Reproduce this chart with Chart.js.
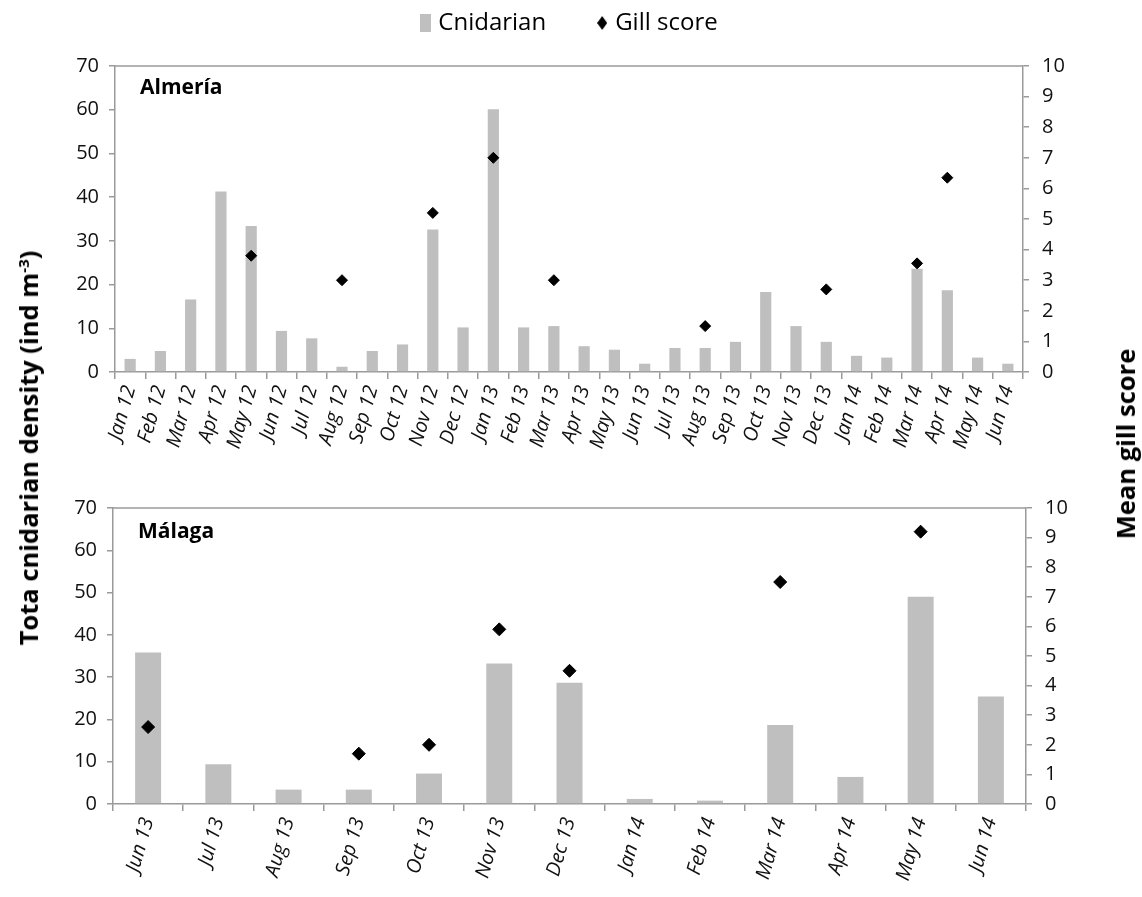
<!DOCTYPE html>
<html>
<head>
<meta charset="utf-8">
<title>Cnidarian density and gill score</title>
<script src="https://cdn.jsdelivr.net/npm/chart.js@4.4.1/dist/chart.umd.min.js"></script>
<style>
  html, body { margin: 0; padding: 0; background: #fff; }
  body { width: 1142px; height: 897px; position: relative; overflow: hidden; font-family: 'Open Sans', sans-serif; }
  .wrap { position: absolute; left: 0; width: 1142px; }
  #topWrap { top: -44px; height: 499px; }
  #botWrap { top: 460px; height: 437px; }
  .ytitle { position: absolute; font-weight: bold; font-size: 25.5px; white-space: nowrap; color: #000;
            transform: translate(-50%, -50%) rotate(-90deg); }
  .ytitle sup { font-size: 15px; }
</style>
</head>
<body>
<div id="topWrap" class="wrap"><canvas id="almeria"></canvas></div>
<div id="botWrap" class="wrap"><canvas id="malaga"></canvas></div>
<div class="ytitle" style="left:28px; top:448px;">Tota cnidarian density (ind m<sup>-3</sup>)</div>
<div class="ytitle" style="left:1125px; top:444px;">Mean gill score</div>

<script>
// Almería monthly series
const almeriaMonths = ['Jan 12','Feb 12','Mar 12','Apr 12','May 12','Jun 12','Jul 12','Aug 12','Sep 12','Oct 12','Nov 12','Dec 12',
                       'Jan 13','Feb 13','Mar 13','Apr 13','May 13','Jun 13','Jul 13','Aug 13','Sep 13','Oct 13','Nov 13','Dec 13',
                       'Jan 14','Feb 14','Mar 14','Apr 14','May 14','Jun 14'];
const almeriaCnidarian = [3.0, 4.8, 16.6, 41.3, 33.4, 9.4, 7.7, 1.2, 4.8, 6.3, 32.6, 10.2,
                          60.1, 10.2, 10.5, 5.9, 5.1, 1.9, 5.5, 5.5, 6.9, 18.3, 10.5, 6.9,
                          3.7, 3.3, 23.6, 18.7, 3.3, 1.9];
const almeriaGill = [null, null, null, null, 3.8, null, null, 3.0, null, null, 5.2, null,
                     7.0, null, 3.0, null, null, null, null, 1.5, null, null, null, 2.7,
                     null, null, 3.55, 6.35, null, null];

// Málaga monthly series
const malagaMonths = ['Jun 13','Jul 13','Aug 13','Sep 13','Oct 13','Nov 13','Dec 13','Jan 14','Feb 14','Mar 14','Apr 14','May 14','Jun 14'];
const malagaCnidarian = [35.8, 9.4, 3.4, 3.4, 7.2, 33.2, 28.7, 1.2, 0.8, 18.7, 6.4, 49.0, 25.4];
const malagaGill = [2.6, null, null, 1.7, 2.0, 5.9, 4.5, null, null, 7.5, null, 9.2, null];

// Axis tick values
const densityTicks = [0, 10, 20, 30, 40, 50, 60, 70];
const gillTicks = [0, 1, 2, 3, 4, 5, 6, 7, 8, 9, 10];

const BAR_COLOR = '#bfbfbf';
const AXIS_COLOR = '#9a9a9a';
const TICK_TEXT = '#111111';
const FONT = "'Open Sans', sans-serif";

function swatch(w, h, paint) {
  const c = document.createElement('canvas');
  c.width = w; c.height = h;
  paint(c.getContext('2d'), w, h);
  return c;
}
const barSwatch = swatch(11, 18, (g, w, h) => { g.fillStyle = BAR_COLOR; g.fillRect(0, 0, w, h); });
const diamondSwatch = swatch(10, 14, (g, w, h) => {
  g.fillStyle = '#000';
  g.beginPath(); g.moveTo(w / 2, 0); g.lineTo(w, h / 2); g.lineTo(w / 2, h); g.lineTo(0, h / 2); g.closePath(); g.fill();
});

// Top border of the plot area and the site name in its corner
const framePlugin = {
  id: 'frame',
  afterDraw(chart, args, opts) {
    const { ctx, chartArea: a } = chart;
    ctx.save();
    ctx.strokeStyle = AXIS_COLOR;
    ctx.lineWidth = 1.5;
    ctx.beginPath(); ctx.moveTo(a.left, a.top); ctx.lineTo(a.right, a.top); ctx.stroke();
    ctx.fillStyle = '#000';
    ctx.font = 'bold 21px ' + FONT;
    ctx.textBaseline = 'middle';
    ctx.fillText(opts.label, a.left + opts.dx, a.top + opts.dy);
    ctx.restore();
  }
};

// Fixed legend block height so the plot area starts at the same place every time
const legendHeightPlugin = {
  id: 'legendHeight',
  beforeInit(chart, args, opts) {
    if (!chart.legend) return;
    const fit = chart.legend.fit;
    chart.legend.fit = function () { fit.call(this); this.height = opts.height; };
  }
};

function makeChart(id, cfg) {
  const tickFont = { family: FONT, size: 20 };
  return new Chart(document.getElementById(id), {
    type: 'bar',
    data: {
      labels: cfg.labels,
      datasets: [
        {
          type: 'bar',
          label: 'Cnidarian',
          data: cfg.density,
          backgroundColor: BAR_COLOR,
          borderWidth: 0,
          barPercentage: cfg.barPct,
          categoryPercentage: 1,
          yAxisID: 'y',
          order: 2
        },
        {
          type: 'line',
          label: 'Gill score',
          data: cfg.gill,
          showLine: false,
          pointStyle: 'rectRot',
          pointRadius: cfg.pointR,
          pointHoverRadius: cfg.pointR,
          pointBackgroundColor: '#000',
          pointBorderColor: '#000',
          pointBorderWidth: 1,
          yAxisID: 'y1',
          order: 1
        }
      ]
    },
    options: {
      responsive: true,
      maintainAspectRatio: false,
      animation: false,
      layout: { padding: { top: cfg.padTop, left: 0, right: 0, bottom: 0 } },
      plugins: {
        tooltip: { enabled: false },
        frame: { label: cfg.site, dx: cfg.siteDx, dy: cfg.siteDy },
        legendHeight: { height: cfg.legendHeight },
        legend: {
          display: cfg.showLegend,
          position: 'top',
          labels: {
            usePointStyle: true,
            boxWidth: 2,
            boxHeight: 18,
            padding: 55,
            color: '#000',
            font: { family: FONT, size: 24 },
            generateLabels: () => [
              { text: 'Cnidarian', pointStyle: barSwatch, fillStyle: BAR_COLOR, strokeStyle: BAR_COLOR, lineWidth: 0, hidden: false, datasetIndex: 0, fontColor: '#000' },
              { text: 'Gill score', pointStyle: diamondSwatch, fillStyle: '#000', strokeStyle: '#000', lineWidth: 0, hidden: false, datasetIndex: 1, fontColor: '#000' }
            ]
          }
        }
      },
      scales: {
        x: {
          offset: true,
          grid: { offset: true, drawOnChartArea: false, tickLength: 7, color: AXIS_COLOR, lineWidth: 1.5 },
          border: { color: AXIS_COLOR, width: 1.5 },
          ticks: {
            autoSkip: false, minRotation: 74, maxRotation: 74, padding: 4,
            color: TICK_TEXT, font: { family: FONT, size: 20, style: 'italic' }
          },
          afterFit: s => { s.height = cfg.xHeight; }
        },
        y: {
          position: 'left',
          min: densityTicks[0], max: densityTicks[densityTicks.length - 1],
          afterBuildTicks: s => { s.ticks = densityTicks.map(v => ({ value: v })); },
          grid: { drawOnChartArea: false, tickLength: 6, color: AXIS_COLOR, lineWidth: 1.5 },
          border: { color: AXIS_COLOR, width: 1.5 },
          ticks: { padding: 10, color: TICK_TEXT, font: tickFont },
          afterFit: s => { s.width = cfg.leftW; }
        },
        y1: {
          position: 'right',
          min: gillTicks[0], max: gillTicks[gillTicks.length - 1],
          afterBuildTicks: s => { s.ticks = gillTicks.map(v => ({ value: v })); },
          grid: { drawOnChartArea: false, tickLength: 6, color: AXIS_COLOR, lineWidth: 1.5 },
          border: { color: AXIS_COLOR, width: 1.5 },
          ticks: { padding: 13, color: TICK_TEXT, font: tickFont },
          afterFit: s => { s.width = cfg.rightW; }
        }
      }
    },
    plugins: [framePlugin, legendHeightPlugin]
  });
}

makeChart('almeria', {
  labels: almeriaMonths, density: almeriaCnidarian, gill: almeriaGill,
  site: 'Almería', siteDx: 25, siteDy: 22,
  showLegend: true, legendHeight: 110, padTop: 0,
  barPct: 0.37, pointR: 5.5, xHeight: 83, leftW: 115, rightW: 119
});

makeChart('malaga', {
  labels: malagaMonths, density: malagaCnidarian, gill: malagaGill,
  site: 'Málaga', siteDx: 25, siteDy: 24,
  showLegend: false, legendHeight: 0, padTop: 48,
  barPct: 0.37, pointR: 6.5, xHeight: 93, leftW: 113, rightW: 116
});
</script>
</body>
</html>
